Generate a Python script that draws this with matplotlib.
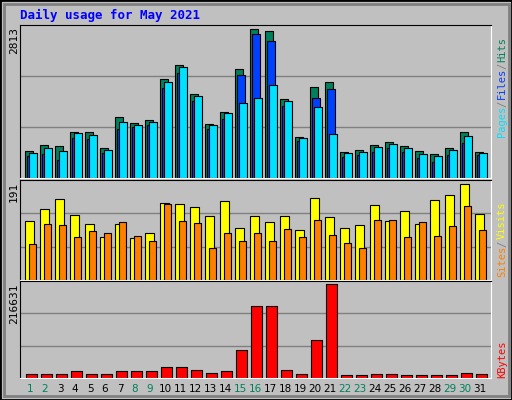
import numpy as np
import matplotlib
matplotlib.use("Agg")
import matplotlib.pyplot as plt
from matplotlib.patches import Rectangle

# ── 資料 ──
days = list(range(1, 32))
weekend = [1, 2, 8, 9, 15, 16, 22, 23, 29, 30]

hits = [503, 617, 598, 866, 866, 560, 1152, 1037, 1101, 1877, 2145, 1591, 1018, 1247, 2068, 2813,
        2775, 1496, 770, 1725, 1820, 484, 522, 617, 675, 598, 503, 445, 560, 866, 484]
files = [420, 445, 350, 757, 732, 465, 923, 961, 999, 1706, 1992, 1457, 923, 1114, 1954, 2717,
         2584, 1362, 694, 1515, 1686, 388, 426, 484, 560, 484, 369, 312, 426, 655, 426]
pages = [465, 560, 503, 846, 808, 522, 1056, 999, 1056, 1820, 2106, 1553, 999, 1228, 1419, 1515,
         1763, 1457, 751, 1343, 827, 465, 484, 579, 636, 560, 445, 407, 522, 789, 465]
sites = [118, 141, 162, 129, 112, 85, 112, 83, 93, 154, 152, 145, 127, 158, 104, 127,
         116, 127, 100, 164, 125, 104, 110, 149, 118, 137, 112, 160, 170, 191, 131]
visits = [71, 112, 110, 85, 98, 93, 116, 87, 77, 152, 118, 114, 64, 93, 77, 93,
          77, 102, 85, 120, 89, 73, 64, 120, 120, 85, 116, 87, 108, 147, 100]
kbytes = [10300, 10300, 10300, 15000, 10300, 10300, 15000, 15000, 15000, 24500, 24500, 17400,
          12600, 15000, 64800, 166800, 166800, 17400, 10300, 88500, 216631, 7900, 7900, 10300,
          10300, 7900, 7900, 7900, 7900, 12600, 10300]

W, H = 512, 400
BG = "#C0C0C0"
GREEN, BLUE, CYAN = "#00805C", "#0040FF", "#00E0FF"
ORANGE, YELLOW, RED = "#FF8000", "#FFFF00", "#FF0000"

fig = plt.figure(figsize=(W / 100, H / 100), dpi=100, facecolor=BG)


def fx(x):
    return x / W


def fy(y):
    return 1 - y / H


def panel(x0, y0, x1, y1):
    ax = fig.add_axes([fx(x0), fy(y1), fx(x1 - x0), (y1 - y0) / H])
    ax.set_facecolor(BG)
    ax.set_xlim(0.333, 31.73)
    ax.set_xticks([])
    ax.set_yticks([])
    for s in ["top", "left"]:
        ax.spines[s].set_color("black")
    for s in ["right", "bottom"]:
        ax.spines[s].set_color("white")
    return ax


x = np.array(days)

# ── 外框 ──
fig.patches.append(Rectangle((0, 0), 1, 1, transform=fig.transFigure, fill=False,
                             edgecolor="black", linewidth=2))
fig.patches.append(Rectangle((fx(4), fy(396)), fx(505), 392 / H, transform=fig.transFigure,
                             fill=False, edgecolor="#808080", linewidth=2))

fig.text(fx(20), fy(15), "Daily usage for May 2021", color="#0000FF", fontsize=9,
         fontweight="bold", family="DejaVu Sans Mono", va="center")

# ── 上: Hits / Files / Pages ──
ax1 = panel(20, 25, 491, 178)
top1 = 2813 * (176.5 - 25) / (176.5 - 29.3)
ax1.set_ylim(0, top1)
for f in (1 / 3, 2 / 3):
    ax1.axhline(top1 * f, color="#808080", lw=1, zorder=0)
kw = dict(align="edge", edgecolor="black", linewidth=0.8)
ax1.bar(x - 0.33, hits, 0.51, color=GREEN, **kw)
ax1.bar(x - 0.2, files, 0.5, color=BLUE, **kw)
ax1.bar(x - 0.05, pages, 0.5, color=CYAN, **kw)

# ── 中: Sites / Visits ──
ax2 = panel(20, 180, 491, 280)
top2 = 191 * (279 - 180) / (279 - 184)
ax2.set_ylim(0, top2)
for f in (1 / 3, 2 / 3):
    ax2.axhline(top2 * f, color="#808080", lw=1, zorder=0)
ax2.bar(x - 0.33, sites, 0.6, color=YELLOW, **kw)
ax2.bar(x - 0.07, visits, 0.5, color=ORANGE, **kw)

# ── 下: KBytes ──
ax3 = panel(20, 281, 491, 378)
top3 = 216631 * (376 - 281) / (376 - 284)
ax3.set_ylim(0, top3)
for f in (1 / 3, 2 / 3):
    ax3.axhline(top3 * f, color="#808080", lw=1, zorder=0)
ax3.bar(x - 0.27, kbytes, 0.71, color=RED, **kw)

# ── 左側最大值 ──
mono = dict(family="DejaVu Sans Mono", fontsize=8, rotation=90, ha="center", va="top")
fig.text(fx(14), fy(27), "2813", **mono)
fig.text(fx(14), fy(182), "191", **mono)
fig.text(fx(14), fy(283), "216631", **mono)

# ── 右側圖例（由下往上排） ──
leg = dict(family="DejaVu Sans Mono", fontsize=7.5, rotation=90, ha="center", va="bottom")
CH = 5.6  # 每字元像素


def stack(items, ybottom):
    y = ybottom
    for label, col in items:
        fig.text(fx(502), fy(y), label, color=col, **leg)
        y -= len(label) * CH + 2


stack([("Pages", CYAN), ("/", "#808080"), ("Files", BLUE), ("/", "#808080"), ("Hits", GREEN)], 137)
stack([("Sites", ORANGE), ("/", "#808080"), ("Visits", YELLOW)], 277)
stack([("KBytes", RED)], 378)

# ── 日期 ──
for d in days:
    px = 30 + 15 * (d - 1)
    fig.text(fx(px), fy(389), str(d), color=GREEN if d in weekend else "black",
             fontsize=7.5, ha="center", va="center")

fig.savefig("out.png", dpi=100, facecolor=BG)
